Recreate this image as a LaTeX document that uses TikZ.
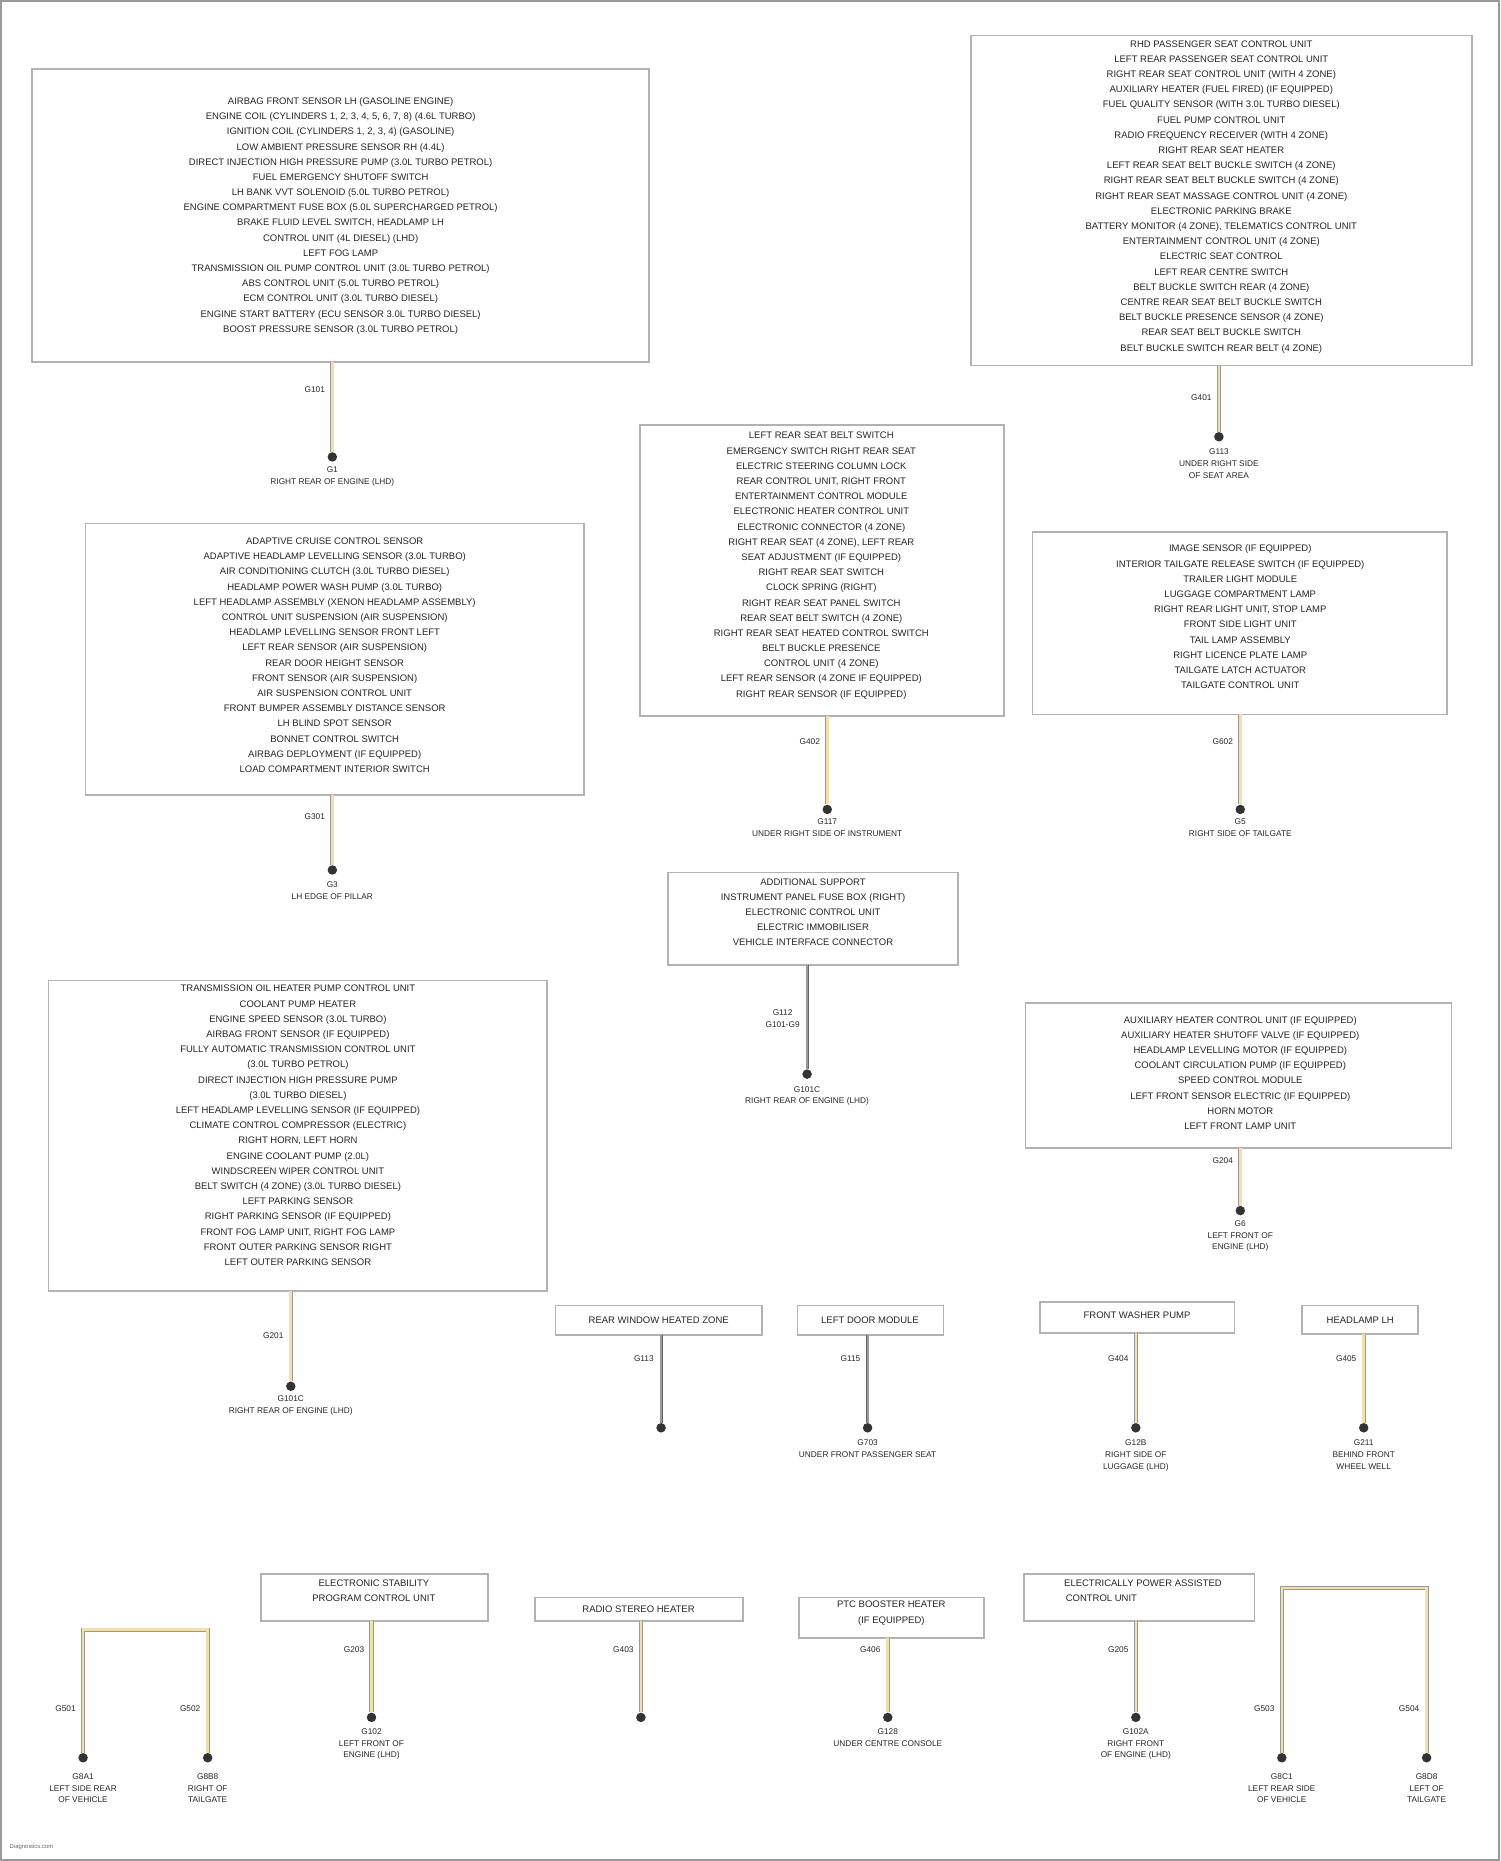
\documentclass[tikz,border=0pt]{standalone}
\usepackage{fontspec}
\setmainfont{Liberation Sans}
\begin{document}
\begin{tikzpicture}[x=1pt,y=-1pt,
  box/.style={draw=black!30,line width=1.4pt,fill=white},
  txt/.style={font=\fontsize{8}{12.8}\selectfont\color{black!85},align=center,inner sep=0pt},
  wire/.style={draw=black!40,line width=3.4pt,postaction={draw=yellow!40!brown!40!white,line width=2.2pt}},
  gwire/.style={draw=black!60,line width=2.6pt,postaction={draw=black!40,line width=1.6pt}},
  dot/.style={circle,fill=black!80,inner sep=0pt,minimum size=8pt},
  lbl/.style={font=\fontsize{7}{12}\selectfont\color{black!85},inner sep=0pt,align=center}]
\useasboundingbox (0,0) rectangle (1264,1568);
\draw[black!40,line width=1.5pt] (1,1) rectangle (1263,1567);
\newcommand{\tap}[8]{% name, x, ytop, ybottom, label, below-text, below y, ytoplabel
  \coordinate (#1t) at (#2,#3);
  \node[dot] (#1d) at (#2,#4) {};
  \draw[wire] (#1t) -- (#1d);
  \node[lbl,anchor=east] at ([xshift=-6pt]#2,#8) {#5};
  \node[lbl,anchor=north] at (#2,#7) {#6};}
% Box A
\draw[box] (27,58) rectangle (547,305);
\node[txt,anchor=north] (A) at (287,82) {AIRBAG FRONT SENSOR LH (GASOLINE ENGINE)\\
ENGINE COIL (CYLINDERS 1, 2, 3, 4, 5, 6, 7, 8) (4.6L TURBO)\\
IGNITION COIL (CYLINDERS 1, 2, 3, 4) (GASOLINE)\\
LOW AMBIENT PRESSURE SENSOR RH (4.4L)\\
DIRECT INJECTION HIGH PRESSURE PUMP (3.0L TURBO PETROL)\\
FUEL EMERGENCY SHUTOFF SWITCH\\
LH BANK VVT SOLENOID (5.0L TURBO PETROL)\\
ENGINE COMPARTMENT FUSE BOX (5.0L SUPERCHARGED PETROL)\\
BRAKE FLUID LEVEL SWITCH, HEADLAMP LH\\
CONTROL UNIT (4L DIESEL) (LHD)\\
LEFT FOG LAMP\\
TRANSMISSION OIL PUMP CONTROL UNIT (3.0L TURBO PETROL)\\
ABS CONTROL UNIT (5.0L TURBO PETROL)\\
ECM CONTROL UNIT (3.0L TURBO DIESEL)\\
ENGINE START BATTERY (ECU SENSOR 3.0L TURBO DIESEL)\\
BOOST PRESSURE SENSOR (3.0L TURBO PETROL)};
\tap{a}{280}{305}{385}{G101}{G1\\[-2pt]RIGHT REAR OF ENGINE (LHD)}{393}{328}
% Box B
\draw[box] (818,30) rectangle (1240,308);
\node[txt,anchor=north] (B) at (1029,34) {RHD PASSENGER SEAT CONTROL UNIT\\
LEFT REAR PASSENGER SEAT CONTROL UNIT\\
RIGHT REAR SEAT CONTROL UNIT (WITH 4 ZONE)\\
AUXILIARY HEATER (FUEL FIRED) (IF EQUIPPED)\\
FUEL QUALITY SENSOR (WITH 3.0L TURBO DIESEL)\\
FUEL PUMP CONTROL UNIT\\
RADIO FREQUENCY RECEIVER (WITH 4 ZONE)\\
RIGHT REAR SEAT HEATER\\
LEFT REAR SEAT BELT BUCKLE SWITCH (4 ZONE)\\
RIGHT REAR SEAT BELT BUCKLE SWITCH (4 ZONE)\\
RIGHT REAR SEAT MASSAGE CONTROL UNIT (4 ZONE)\\
ELECTRONIC PARKING BRAKE\\
BATTERY MONITOR (4 ZONE), TELEMATICS CONTROL UNIT\\
ENTERTAINMENT CONTROL UNIT (4 ZONE)\\
ELECTRIC SEAT CONTROL\\
LEFT REAR CENTRE SWITCH\\
BELT BUCKLE SWITCH REAR (4 ZONE)\\
CENTRE REAR SEAT BELT BUCKLE SWITCH\\
BELT BUCKLE PRESENCE SENSOR (4 ZONE)\\
REAR SEAT BELT BUCKLE SWITCH\\
BELT BUCKLE SWITCH REAR BELT (4 ZONE)};
\tap{b}{1027}{308}{368}{G401}{G113\\[-2pt]UNDER RIGHT SIDE\\[-2pt]OF SEAT AREA}{378}{335}
% Box C
\draw[box] (72,441) rectangle (492,670);
\node[txt,anchor=north] (C) at (282,453) {ADAPTIVE CRUISE CONTROL SENSOR\\
ADAPTIVE HEADLAMP LEVELLING SENSOR (3.0L TURBO)\\
AIR CONDITIONING CLUTCH (3.0L TURBO DIESEL)\\
HEADLAMP POWER WASH PUMP (3.0L TURBO)\\
LEFT HEADLAMP ASSEMBLY (XENON HEADLAMP ASSEMBLY)\\
CONTROL UNIT SUSPENSION (AIR SUSPENSION)\\
HEADLAMP LEVELLING SENSOR FRONT LEFT\\
LEFT REAR SENSOR (AIR SUSPENSION)\\
REAR DOOR HEIGHT SENSOR\\
FRONT SENSOR (AIR SUSPENSION)\\
AIR SUSPENSION CONTROL UNIT\\
FRONT BUMPER ASSEMBLY DISTANCE SENSOR\\
LH BLIND SPOT SENSOR\\
BONNET CONTROL SWITCH\\
AIRBAG DEPLOYMENT (IF EQUIPPED)\\
LOAD COMPARTMENT INTERIOR SWITCH};
\tap{c}{280}{670}{733}{G301}{G3\\[-2pt]LH EDGE OF PILLAR}{743}{688}
% Box D
\draw[box] (539,358) rectangle (846,603);
\node[txt,anchor=north] (D) at (692,364) {LEFT REAR SEAT BELT SWITCH\\
EMERGENCY SWITCH RIGHT REAR SEAT\\
ELECTRIC STEERING COLUMN LOCK\\
REAR CONTROL UNIT, RIGHT FRONT\\
ENTERTAINMENT CONTROL MODULE\\
ELECTRONIC HEATER CONTROL UNIT\\
ELECTRONIC CONNECTOR (4 ZONE)\\
RIGHT REAR SEAT (4 ZONE), LEFT REAR\\
SEAT ADJUSTMENT (IF EQUIPPED)\\
RIGHT REAR SEAT SWITCH\\
CLOCK SPRING (RIGHT)\\
RIGHT REAR SEAT PANEL SWITCH\\
REAR SEAT BELT SWITCH (4 ZONE)\\
RIGHT REAR SEAT HEATED CONTROL SWITCH\\
BELT BUCKLE PRESENCE\\
CONTROL UNIT (4 ZONE)\\
LEFT REAR SENSOR (4 ZONE IF EQUIPPED)\\
RIGHT REAR SENSOR (IF EQUIPPED)};
\tap{d}{697}{603}{682}{G402}{G117\\[-2pt]UNDER RIGHT SIDE OF INSTRUMENT}{690}{625}
% Box E
\draw[box] (870,448) rectangle (1219,602);
\node[txt,anchor=north] (E) at (1045,459) {IMAGE SENSOR (IF EQUIPPED)\\
INTERIOR TAILGATE RELEASE SWITCH (IF EQUIPPED)\\
TRAILER LIGHT MODULE\\
LUGGAGE COMPARTMENT LAMP\\
RIGHT REAR LIGHT UNIT, STOP LAMP\\
FRONT SIDE LIGHT UNIT\\
TAIL LAMP ASSEMBLY\\
RIGHT LICENCE PLATE LAMP\\
TAILGATE LATCH ACTUATOR\\
TAILGATE CONTROL UNIT};
\tap{e}{1045}{602}{682}{G602}{G5\\[-2pt]RIGHT SIDE OF TAILGATE}{690}{625}
% Box F
\draw[box] (563,735) rectangle (807,813);
\node[txt,anchor=north] (F) at (685,740) {ADDITIONAL SUPPORT\\
INSTRUMENT PANEL FUSE BOX (RIGHT)\\
ELECTRONIC CONTROL UNIT\\
ELECTRIC IMMOBILISER\\
VEHICLE INTERFACE CONNECTOR};
\coordinate (ft) at (680,813); \node[dot] (fd) at (680,905) {};
\draw[gwire] (ft) -- (fd);
\node[lbl,anchor=east] at (674,858) {G112\\[-2pt]G101-G9};
\node[lbl,anchor=north] at (680,915) {G101C\\[-2pt]RIGHT REAR OF ENGINE (LHD)};
% Box G
\draw[box] (41,826) rectangle (461,1088);
\node[txt,anchor=north] (G) at (251,830) {TRANSMISSION OIL HEATER PUMP CONTROL UNIT\\
COOLANT PUMP HEATER\\
ENGINE SPEED SENSOR (3.0L TURBO)\\
AIRBAG FRONT SENSOR (IF EQUIPPED)\\
FULLY AUTOMATIC TRANSMISSION CONTROL UNIT\\
(3.0L TURBO PETROL)\\
DIRECT INJECTION HIGH PRESSURE PUMP\\
(3.0L TURBO DIESEL)\\
LEFT HEADLAMP LEVELLING SENSOR (IF EQUIPPED)\\
CLIMATE CONTROL COMPRESSOR (ELECTRIC)\\
RIGHT HORN, LEFT HORN\\
ENGINE COOLANT PUMP (2.0L)\\
WINDSCREEN WIPER CONTROL UNIT\\
BELT SWITCH (4 ZONE) (3.0L TURBO DIESEL)\\
LEFT PARKING SENSOR\\
RIGHT PARKING SENSOR (IF EQUIPPED)\\
FRONT FOG LAMP UNIT, RIGHT FOG LAMP\\
FRONT OUTER PARKING SENSOR RIGHT\\
LEFT OUTER PARKING SENSOR};
\tap{g}{245}{1088}{1168}{G201}{G101C\\[-2pt]RIGHT REAR OF ENGINE (LHD)}{1176}{1125}
% Box H
\draw[box] (864,845) rectangle (1223,967);
\node[txt,anchor=north] (H) at (1045,856) {AUXILIARY HEATER CONTROL UNIT (IF EQUIPPED)\\
AUXILIARY HEATER SHUTOFF VALVE (IF EQUIPPED)\\
HEADLAMP LEVELLING MOTOR (IF EQUIPPED)\\
COOLANT CIRCULATION PUMP (IF EQUIPPED)\\
SPEED CONTROL MODULE\\
LEFT FRONT SENSOR ELECTRIC (IF EQUIPPED)\\
HORN MOTOR\\
LEFT FRONT LAMP UNIT};
\tap{h}{1045}{967}{1020}{G204}{G6\\[-2pt]LEFT FRONT OF\\[-2pt]ENGINE (LHD)}{1028}{978}
% Row boxes
\draw[box] (468,1100) rectangle (642,1125);
\node[txt] (I) at (555,1112) {REAR WINDOW HEATED ZONE};
\coordinate (it) at (557,1125); \node[dot] (id) at (557,1203) {};
\draw[gwire] (it) -- (id);
\node[lbl,anchor=east] at (551,1145) {G113};
\draw[box] (672,1100) rectangle (795,1125);
\node[txt] (J) at (733,1112) {LEFT DOOR MODULE};
\coordinate (jt) at (731,1125); \node[dot] (jd) at (731,1203) {};
\draw[gwire] (jt) -- (jd);
\node[lbl,anchor=east] at (725,1145) {G115};
\node[lbl,anchor=north] at (731,1213) {G703\\[-2pt]UNDER FRONT PASSENGER SEAT};
\draw[box] (876,1097) rectangle (1040,1123);
\node[txt] (K) at (958,1108) {FRONT WASHER PUMP};
\tap{k}{957}{1123}{1203}{G404}{G12B\\[-2pt]RIGHT SIDE OF\\[-2pt]LUGGAGE (LHD)}{1213}{1145}
\draw[box] (1097,1100) rectangle (1195,1124);
\node[txt] (L) at (1146,1112) {HEADLAMP LH};
\tap{l}{1149}{1124}{1203}{G405}{G211\\[-2pt]BEHIND FRONT\\[-2pt]WHEEL WELL}{1213}{1145}
% bottom left fork
\coordinate (m1) at (70,1373); \coordinate (m2) at (175,1373);
\node[dot] (m1d) at (70,1481) {}; \node[dot] (m2d) at (175,1481) {};
\draw[wire] (m1d) -- (m1) -- (m2) -- (m2d);
\node[lbl,anchor=east] at (64,1440) {G501};
\node[lbl,anchor=east] at (169,1440) {G502};
\node[lbl,anchor=north] at (70,1494) {G8A1\\[-2pt]LEFT SIDE REAR\\[-2pt]OF VEHICLE};
\node[lbl,anchor=north] at (175,1494) {G8B8\\[-2pt]RIGHT OF\\[-2pt]TAILGATE};
% bottom boxes
\draw[box] (220,1326) rectangle (411,1366);
\node[txt,anchor=north] (N) at (315,1331) {ELECTRONIC STABILITY\\PROGRAM CONTROL UNIT};
\tap{n}{313}{1366}{1447}{G203}{G102\\[-2pt]LEFT FRONT OF\\[-2pt]ENGINE (LHD)}{1456}{1390}
\draw[box] (451,1346) rectangle (626,1366);
\node[txt] (O) at (538,1356) {RADIO STEREO HEATER};
\tap{o}{540}{1366}{1447}{G403}{}{1456}{1390}
\draw[box] (673,1346) rectangle (829,1380);
\node[txt,anchor=north] (P) at (751,1349) {PTC BOOSTER HEATER\\(IF EQUIPPED)};
\tap{p}{748}{1380}{1447}{G406}{G128\\[-2pt]UNDER CENTRE CONSOLE}{1456}{1390}
\draw[box] (863,1326) rectangle (1057,1366);
\node[txt,anchor=north] (Q) at (963,1331) {ELECTRICALLY POWER ASSISTED\\CONTROL UNIT\hspace*{70pt}};
\tap{q}{957}{1366}{1447}{G205}{G102A\\[-2pt]RIGHT FRONT\\[-2pt]OF ENGINE (LHD)}{1456}{1390}
% bottom right fork
\coordinate (r1) at (1080,1338); \coordinate (r2) at (1202,1338);
\node[dot] (r1d) at (1080,1481) {}; \node[dot] (r2d) at (1202,1481) {};
\draw[wire] (r1d) -- (r1) -- (r2) -- (r2d);
\node[lbl,anchor=east] at (1074,1440) {G503};
\node[lbl,anchor=east] at (1196,1440) {G504};
\node[lbl,anchor=north] at (1080,1494) {G8C1\\[-2pt]LEFT REAR SIDE\\[-2pt]OF VEHICLE};
\node[lbl,anchor=north] at (1202,1494) {G8D8\\[-2pt]LEFT OF\\[-2pt]TAILGATE};
\node[lbl,anchor=west,font=\fontsize{5}{6}\selectfont\color{black!60}] at (8,1556) {Diagnostics.com};
\end{tikzpicture}
\end{document}
